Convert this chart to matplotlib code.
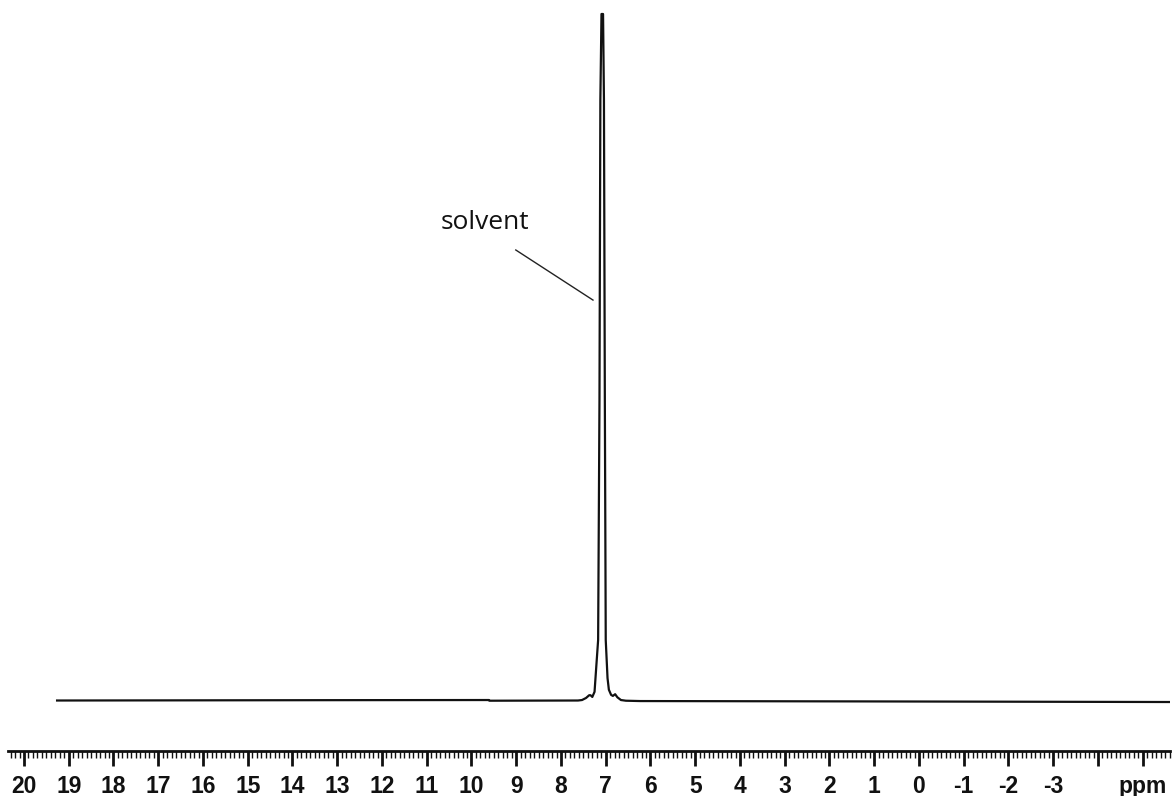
"""1H NMR spectrum: solvent peak only."""
import numpy as np
import matplotlib
matplotlib.use("Agg")
import matplotlib.pyplot as plt
from matplotlib.ticker import FixedLocator, MultipleLocator

# ---------------------------------------------------------------------------
# data (chemical shift in ppm, relative intensity)
# ---------------------------------------------------------------------------
ppm = [19.26, 13.16, 9.61, 9.60, 7.62, 7.53, 7.44, 7.37, 7.34, 7.30, 7.25,
       7.21, 7.17, 7.14, 7.12, 7.095, 7.06, 7.04, 7.02, 7.00, 6.96, 6.93,
       6.88, 6.84, 6.79, 6.74, 6.66, 6.55, 6.23, 1.32, -5.61]
intensity = [-0.07, -0.02, 0.0, -0.10, -0.07, 0.0, 0.3, 0.7, 0.7, 0.45, 1.2,
             5.0, 8.75, 43.7, 87.5, 100.0, 100.0, 87.5, 43.7, 8.75, 3.2, 1.5,
             0.75, 0.6, 0.85, 0.4, 0.0, -0.1, -0.15, -0.2, -0.29]

major_ticks = list(range(20, -6, -1))
major_labels = [str(v) for v in range(20, -4, -1)] + ["", "ppm"]

annot_text = "solvent"
annot_xy = (7.285, 58.3)      # end of the leader line, at the peak
annot_start = (9.01, 65.6)    # start of the leader line
annot_text_xy = (10.70, 68.6)

# ---------------------------------------------------------------------------
fig = plt.figure(figsize=(11.76, 7.96), dpi=100)
ax = fig.add_axes([8 / 1176, 45 / 796, 1162 / 1176, 751 / 796])

ax.plot(ppm, intensity, color="#111111", linewidth=1.6, solid_joinstyle="round")

ax.set_xlim(20.357, -5.609)
ax.set_ylim(-7.43, 102.04)

for side in ("left", "right", "top"):
    ax.spines[side].set_visible(False)
ax.spines["bottom"].set_linewidth(2.0)
ax.spines["bottom"].set_color("#111111")
ax.set_yticks([])

ax.xaxis.set_major_locator(FixedLocator(major_ticks))
ax.set_xticklabels(major_labels, fontfamily="Liberation Sans",
                   fontweight="bold", fontsize=16.5)
ax.xaxis.set_minor_locator(MultipleLocator(0.1))
ax.tick_params(axis="x", which="major", length=11, width=2.0, pad=6,
               color="#111111", labelcolor="#111111")
ax.tick_params(axis="x", which="minor", length=5, width=1.0, color="#111111")

# solvent label with leader line
ax.plot([annot_start[0], annot_xy[0]], [annot_start[1], annot_xy[1]],
        color="#222222", linewidth=1.0)
ax.text(annot_text_xy[0], annot_text_xy[1], annot_text, fontfamily="Open Sans",
        fontsize=19, ha="left", va="baseline", color="#111111")

fig.savefig("out.png", dpi=100)
